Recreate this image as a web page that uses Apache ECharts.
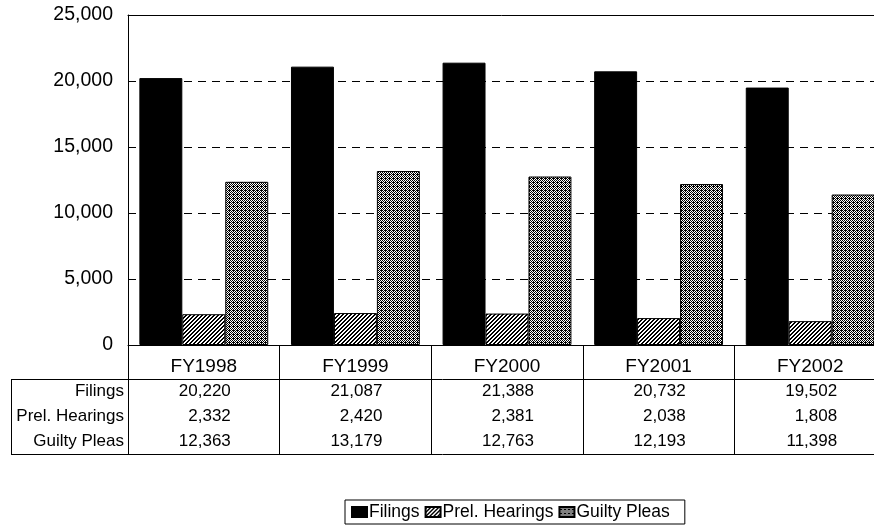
<!DOCTYPE html>
<html>
<head>
<meta charset="utf-8">
<script src="https://cdn.jsdelivr.net/npm/echarts@6/dist/echarts.min.js"></script>
<style>
html,body{margin:0;padding:0;background:#fff;overflow:hidden;}
#chart{width:874px;height:525px;}
</style>
</head>
<body>
<div id="chart"></div>
<script>
var categories = ['FY1998', 'FY1999', 'FY2000', 'FY2001', 'FY2002'];
var seriesNames = ['Filings', 'Prel. Hearings', 'Guilty Pleas'];
var filings = [20220, 21087, 21388, 20732, 19502];
var prelHearings = [2332, 2420, 2381, 2038, 1808];
var guiltyPleas = [12363, 13179, 12763, 12193, 11398];
var yTicks = [0, 5000, 10000, 15000, 20000, 25000];

function fmt(n) { return n.toLocaleString('en-US'); }

function makePattern(size, fn) {
  var c = document.createElement('canvas');
  c.width = size; c.height = size;
  var ctx = c.getContext('2d');
  ctx.fillStyle = '#fff';
  ctx.fillRect(0, 0, size, size);
  ctx.fillStyle = '#000';
  for (var x = 0; x < size; x++) {
    for (var y = 0; y < size; y++) {
      if (fn(x, y)) ctx.fillRect(x, y, 1, 1);
    }
  }
  return c;
}
var hatch = makePattern(4, function (x, y) { return (x + y) % 4 < 2; });
var dots = makePattern(4, function (x, y) { return (x + y) % 2 === 0 || (x % 4 === 1 && y % 4 === 2); });

var chart = echarts.init(document.getElementById('chart'), null, { renderer: 'canvas' });
var font = 'Liberation Sans, Arial, sans-serif';

var option = {
  animation: false,
  textStyle: { fontFamily: font, color: '#000' },
  grid: { left: 128, top: 15, width: 758, height: 330, containLabel: false, outerBoundsMode: 'none' },
  legend: {
    data: seriesNames,
    left: 345, top: 500,
    orient: 'horizontal',
    itemWidth: 15, itemHeight: 10, itemGap: 5,
    padding: [3, 15, 3, 6],
    borderColor: '#000', borderWidth: 1,
    textStyle: { fontFamily: font, fontSize: 17.5, color: '#000', padding: [0, 0, 0, -3] },
    icon: 'rect'
  },
  xAxis: [
    {
      type: 'category', data: categories, position: 'bottom',
      axisLine: { show: true, lineStyle: { color: '#000', width: 1 } },
      axisTick: { show: true, length: 109, interval: 0, lineStyle: { color: '#000', width: 1 } },
      axisLabel: { margin: 12, fontSize: 19, color: '#000', fontFamily: font, interval: 0 },
      splitLine: { show: false }
    },
    {
      type: 'category', data: categories, position: 'bottom',
      axisLine: { show: false }, axisTick: { show: false }, splitLine: { show: false },
      axisLabel: {
        margin: 34, interval: 0,
        formatter: function (v, i) {
          return '{v|' + fmt(filings[i]) + '}\n{v|' + fmt(prelHearings[i]) + '}\n{v|' + fmt(guiltyPleas[i]) + '}';
        },
        rich: { v: { fontSize: 17, lineHeight: 25, width: 54, align: 'right', fontFamily: font, color: '#000' } }
      }
    },
    {
      type: 'category', data: categories, position: 'top',
      axisLine: { show: true, lineStyle: { color: '#000', width: 1 } },
      axisTick: { show: false }, axisLabel: { show: false }, splitLine: { show: false }
    }
  ],
  yAxis: {
    type: 'value', min: yTicks[0], max: yTicks[yTicks.length - 1], interval: 5000,
    axisLine: { show: true, lineStyle: { color: '#000', width: 1 } },
    axisTick: { show: false },
    axisLabel: { margin: 15, fontSize: 19.5, color: '#000', fontFamily: font, formatter: function (v) { return fmt(v); } },
    splitLine: { show: true, lineStyle: { color: '#000', type: [8, 6], width: 1 } }
  },
  series: [
    {
      name: seriesNames[0], type: 'bar', xAxisIndex: 0, data: filings,
      barGap: 0, barCategoryGap: '15%',
      itemStyle: { color: '#000', borderColor: '#000', borderWidth: 1 }
    },
    {
      name: seriesNames[1], type: 'bar', xAxisIndex: 0, data: prelHearings,
      itemStyle: { color: { image: hatch, repeat: 'repeat' }, borderColor: '#000', borderWidth: 1 }
    },
    {
      name: seriesNames[2], type: 'bar', xAxisIndex: 0, data: guiltyPleas,
      itemStyle: { color: { image: dots, repeat: 'repeat' }, borderColor: '#000', borderWidth: 1 }
    }
  ],
  graphic: [
    { type: 'line', shape: { x1: 11, y1: 379.5, x2: 874, y2: 379.5 }, style: { stroke: '#000', lineWidth: 1 } },
    { type: 'line', shape: { x1: 11, y1: 454.5, x2: 874, y2: 454.5 }, style: { stroke: '#000', lineWidth: 1 } },
    { type: 'line', shape: { x1: 11.5, y1: 379, x2: 11.5, y2: 455 }, style: { stroke: '#000', lineWidth: 1 } },
    { type: 'text', right: 874 - 124, top: 383, style: { text: seriesNames[0], font: '17px ' + font, fill: '#000', textAlign: 'right' } },
    { type: 'text', right: 874 - 124, top: 408, style: { text: seriesNames[1], font: '17px ' + font, fill: '#000', textAlign: 'right' } },
    { type: 'text', right: 874 - 124, top: 433, style: { text: seriesNames[2], font: '17px ' + font, fill: '#000', textAlign: 'right' } }
  ]
};
chart.setOption(option);
</script>
</body>
</html>
